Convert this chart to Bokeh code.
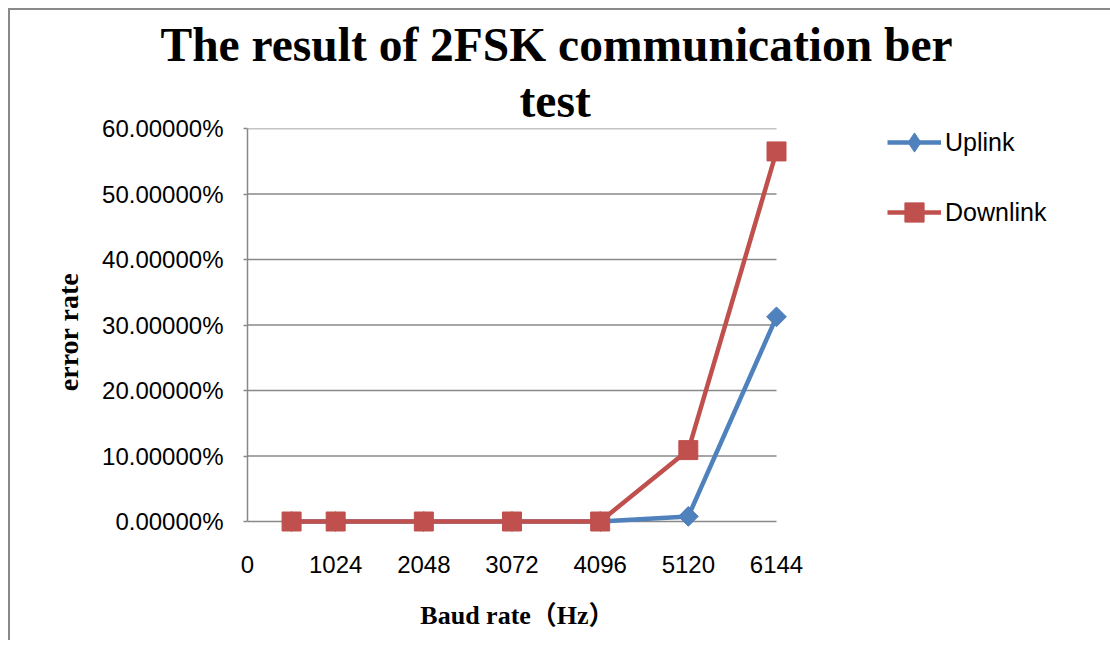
import math
from bokeh.plotting import figure
from bokeh.models import (Range1d, FixedTicker, NumeralTickFormatter, Legend,
                          LegendItem, Title)
from bokeh.embed import file_html
from bokeh.resources import INLINE

# ---- data ----
baud_rate = [512, 1024, 2048, 3072, 4096, 5120, 6144]
uplink = [0.0, 0.0, 0.0, 0.0, 0.0, 0.0078, 0.3125]
downlink = [0.0, 0.0, 0.0, 0.0, 0.0, 0.109, 0.565]
x_ticks = [0, 1024, 2048, 3072, 4096, 5120, 6144]
y_ticks = [0.0, 0.1, 0.2, 0.3, 0.4, 0.5, 0.6]
series_names = ["Uplink", "Downlink"]
title_line1 = "The result of 2FSK communication ber"
title_line2 = "test"
x_label = "Baud rate（Hz）"
y_label = "error rate"

# ---- layout / style ----
BLUE = "#4F81BD"
RED = "#C0504D"
GRID = "#898989"
X_MAX = x_ticks[-1]
Y_MAX = y_ticks[-1]
PLOT_W, PLOT_H, PAD_R, PAD_B = 529, 393, 11, 14
FW, FH = PLOT_W + PAD_R, PLOT_H + PAD_B

p = figure(width=1090, height=630, frame_width=FW, frame_height=FH,
           output_backend="svg", toolbar_location=None, title=None,
           x_range=Range1d(0, X_MAX * FW / PLOT_W),
           y_range=Range1d(-Y_MAX * PAD_B / PLOT_H, Y_MAX),
           min_border_left=237, min_border_top=118,
           min_border_right=1090 - 237 - FW, min_border_bottom=630 - 118 - FH)
p.outline_line_color = None
p.background_fill_color = "white"
p.border_fill_color = "white"
p.xgrid.visible = False
p.ygrid.visible = False
p.styles = {"margin-left": "8px", "margin-top": "8px",
            "border-left": f"2px solid {GRID}", "border-top": f"2px solid {GRID}"}

TITLE_FONT = dict(text_font="Liberation Serif", text_font_size="47.5px",
                  text_font_style="bold", text_color="black")
# titles (added bottom line first)
p.add_layout(Title(text=title_line2, align="left", offset=272, standoff=4, **TITLE_FONT), "above")
p.add_layout(Title(text=title_line1, align="left", offset=-87, standoff=0, **TITLE_FONT), "above")

# horizontal gridlines (incl. the zero line acting as x axis line)
p.segment(x0=[0] * len(y_ticks), x1=[X_MAX] * len(y_ticks), y0=y_ticks, y1=y_ticks,
          line_color=GRID, line_width=1.5)

LABEL_FONT = "'Liberation Serif', 'Noto Sans CJK JP'"

# y axis
ya = p.yaxis[0]
ya.ticker = FixedTicker(ticks=y_ticks)
ya.formatter = NumeralTickFormatter(format="0.00000%")
ya.bounds = (0, Y_MAX)
ya.axis_line_color = GRID
ya.axis_line_width = 1.5
ya.major_tick_line_color = GRID
ya.major_tick_line_width = 1.5
ya.major_tick_out = 4
ya.major_tick_in = 0
ya.minor_tick_line_color = None
ya.major_label_standoff = 20
ya.major_label_text_font = "Liberation Sans"
ya.major_label_text_font_size = "24px"
ya.major_label_text_color = "black"
ya.axis_label = y_label
ya.axis_label_text_font = LABEL_FONT
ya.axis_label_text_font_size = "28px"
ya.axis_label_text_font_style = "bold"
ya.axis_label_text_color = "black"
ya.axis_label_standoff = 15

# x axis
xa = p.xaxis[0]
xa.ticker = FixedTicker(ticks=x_ticks)
xa.axis_line_color = None
xa.major_tick_line_color = None
xa.major_tick_out = 0
xa.major_tick_in = 0
xa.minor_tick_line_color = None
xa.major_label_standoff = 20
xa.major_label_text_font = "Liberation Sans"
xa.major_label_text_font_size = "24px"
xa.major_label_text_color = "black"
xa.axis_label = x_label
xa.axis_label_text_font = LABEL_FONT
xa.axis_label_text_font_size = "26px"
xa.axis_label_text_font_style = "bold"
xa.axis_label_text_color = "black"
xa.axis_label_standoff = 25

# series
l1 = p.line(baud_rate, uplink, line_color=BLUE, line_width=4.5, line_join="round")
# diamond-shaped marker used for the legend key (sits under the plotted markers)
s1_key = p.scatter(baud_rate, uplink, marker="diamond", size=12,
                   fill_color=BLUE, line_color=BLUE)
s1 = p.scatter(baud_rate, uplink, marker="square", size=14, angle=math.pi / 4,
               fill_color=BLUE, line_color=BLUE)
l2 = p.line(baud_rate, downlink, line_color=RED, line_width=4.5, line_join="round")
s2 = p.scatter(baud_rate, downlink, marker="square", size=19,
               fill_color=RED, line_color=RED)

legend = Legend(items=[LegendItem(label=series_names[0], renderers=[l1, s1_key]),
                       LegendItem(label=series_names[1], renderers=[l2, s2])],
                location=(100, 299), glyph_width=54, glyph_height=48,
                label_height=20, spacing=22, label_standoff=4, padding=0, margin=0,
                border_line_color=None, background_fill_alpha=0,
                label_text_font="Liberation Sans", label_text_font_size="25px",
                label_text_color="black")
p.add_layout(legend, "right")

open("out.html", "w").write(file_html(p, INLINE))
